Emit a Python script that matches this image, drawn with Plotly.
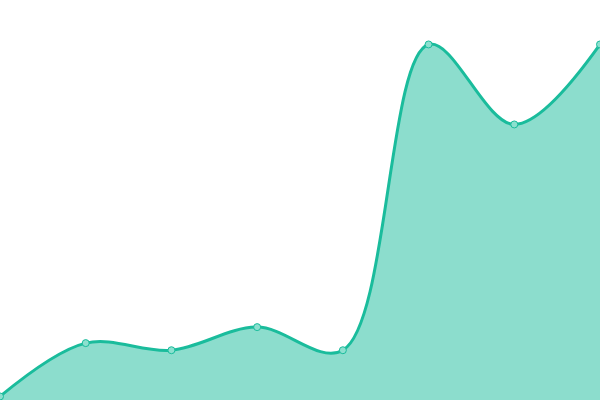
import plotly.graph_objects as go

# values
x_idx = [0, 1, 2, 3, 4, 5, 6, 7]
y_vals = [1, 16, 14, 20.5, 14, 100, 77.5, 100]

line_col = "#1abc9c"
fill_col = "rgba(26, 188, 156, 0.5)"

fig = go.Figure()
fig.add_trace(go.Scatter(
    x=x_idx, y=y_vals,
    mode="lines+markers",
    line=dict(color=line_col, width=3, shape="spline", smoothing=1),
    fill="tozeroy", fillcolor=fill_col,
    marker=dict(size=7, color="#8ce0cf", line=dict(color=line_col, width=1)),
    cliponaxis=False,
    hoverinfo="skip",
))

fig.update_layout(
    width=600, height=400,
    margin=dict(l=0, r=0, t=0, b=0),
    paper_bgcolor="white", plot_bgcolor="white",
    showlegend=False,
    xaxis=dict(range=[0, 7], visible=False, fixedrange=True),
    yaxis=dict(range=[0, 112.5], visible=False, fixedrange=True),
)

# drop the page's default body margin so the chart sits at 0,0
fig.write_html("out.html", config=dict(displayModeBar=False),
               post_script="document.body.style.margin='0';document.body.style.overflow='hidden';")
